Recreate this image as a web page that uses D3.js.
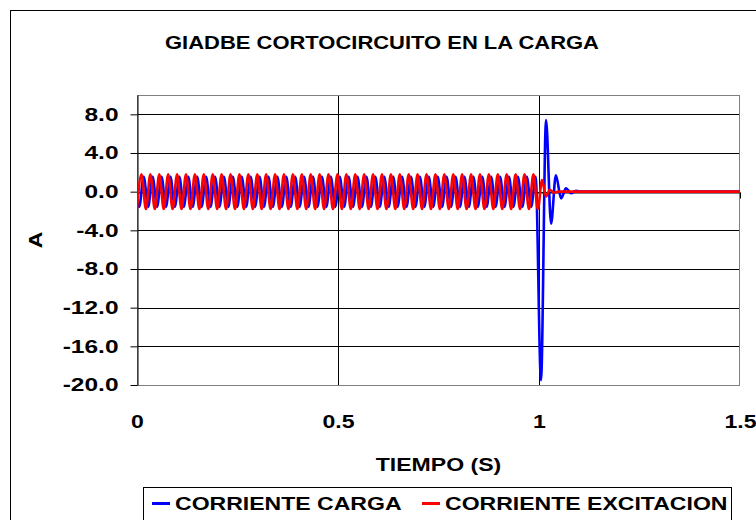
<!DOCTYPE html>
<html>
<head>
<meta charset="utf-8">
<script src="https://cdn.jsdelivr.net/npm/d3@7"></script>
<style>
  html, body { margin: 0; padding: 0; background: #fff; }
  svg { display: block; }
  text { font-family: "Liberation Sans", Arial, sans-serif; font-weight: bold; fill: #000; }
</style>
</head>
<body>
<svg id="chart" width="756" height="520"></svg>
<script>
// Time (s) of each turning point of the load current (blue)
const cargaT = [0,
  0.0055,0.0166,0.0277,0.0387,0.0498,0.0609,0.0720,0.0831,0.0941,0.1052,
  0.1163,0.1274,0.1385,0.1495,0.1606,0.1717,0.1828,0.1939,0.2049,0.2160,
  0.2271,0.2382,0.2493,0.2603,0.2714,0.2825,0.2936,0.3047,0.3157,0.3268,
  0.3379,0.3490,0.3601,0.3711,0.3822,0.3933,0.4044,0.4155,0.4265,0.4376,
  0.4487,0.4598,0.4709,0.4819,0.4930,0.5041,0.5152,0.5263,0.5373,0.5484,
  0.5595,0.5706,0.5817,0.5927,0.6038,0.6149,0.6260,0.6371,0.6481,0.6592,
  0.6703,0.6814,0.6925,0.7035,0.7146,0.7257,0.7368,0.7479,0.7589,0.7700,
  0.7811,0.7922,0.8033,0.8143,0.8254,0.8365,0.8476,0.8587,0.8697,0.8808,
  0.8919,0.9030,0.9141,0.9251,0.9362,0.9473,0.9584,0.9695,0.9805,0.9916,
  1.0050,1.0175,1.0300,1.0420,1.0550,1.0670,1.0800,1.0920,1.1050,1.5];
// Load current (A)
const cargaA = [-1.1,
  -1.55,1.55,-1.55,1.55,-1.55,1.55,-1.55,1.55,-1.55,1.55,
  -1.55,1.55,-1.55,1.55,-1.55,1.55,-1.55,1.55,-1.55,1.55,
  -1.55,1.55,-1.55,1.55,-1.55,1.55,-1.55,1.55,-1.55,1.55,
  -1.55,1.55,-1.55,1.55,-1.55,1.55,-1.55,1.55,-1.55,1.55,
  -1.55,1.55,-1.55,1.55,-1.55,1.55,-1.55,1.55,-1.55,1.55,
  -1.55,1.55,-1.55,1.55,-1.55,1.55,-1.55,1.55,-1.55,1.55,
  -1.55,1.55,-1.55,1.55,-1.55,1.55,-1.55,1.55,-1.55,1.55,
  -1.55,1.55,-1.55,1.55,-1.55,1.55,-1.55,1.55,-1.55,1.55,
  -1.55,1.55,-1.55,1.55,-1.55,1.55,-1.55,1.55,-1.55,1.55,
  -19.5,7.4,-3.3,1.7,-0.7,0.35,-0.17,0.1,0,0];

// Time (s) of each turning point of the excitation current (red)
const excT = [
  0,0.0111,0.0222,0.0332,0.0443,0.0554,0.0665,0.0776,0.0886,0.0997,
  0.1108,0.1219,0.1330,0.1440,0.1551,0.1662,0.1773,0.1884,0.1994,0.2105,
  0.2216,0.2327,0.2438,0.2548,0.2659,0.2770,0.2881,0.2992,0.3102,0.3213,
  0.3324,0.3435,0.3546,0.3656,0.3767,0.3878,0.3989,0.4100,0.4210,0.4321,
  0.4432,0.4543,0.4654,0.4764,0.4875,0.4986,0.5097,0.5208,0.5318,0.5429,
  0.5540,0.5651,0.5762,0.5872,0.5983,0.6094,0.6205,0.6316,0.6426,0.6537,
  0.6648,0.6759,0.6870,0.6980,0.7091,0.7202,0.7313,0.7424,0.7534,0.7645,
  0.7756,0.7867,0.7978,0.8088,0.8199,0.8310,0.8421,0.8532,0.8642,0.8753,
  0.8864,0.8975,0.9086,0.9196,0.9307,0.9418,0.9529,0.9640,0.9750,0.9861,
  0.9972,1.0075,1.0175,1.0270,1.0370,1.0470,1.5];
// Excitation current (A)
const excA = [
  -1.8,1.8,-1.8,1.8,-1.8,1.8,-1.8,1.8,-1.8,1.8,
  -1.8,1.8,-1.8,1.8,-1.8,1.8,-1.8,1.8,-1.8,1.8,
  -1.8,1.8,-1.8,1.8,-1.8,1.8,-1.8,1.8,-1.8,1.8,
  -1.8,1.8,-1.8,1.8,-1.8,1.8,-1.8,1.8,-1.8,1.8,
  -1.8,1.8,-1.8,1.8,-1.8,1.8,-1.8,1.8,-1.8,1.8,
  -1.8,1.8,-1.8,1.8,-1.8,1.8,-1.8,1.8,-1.8,1.8,
  -1.8,1.8,-1.8,1.8,-1.8,1.8,-1.8,1.8,-1.8,1.8,
  -1.8,1.8,-1.8,1.8,-1.8,1.8,-1.8,1.8,-1.8,1.8,
  -1.8,1.8,-1.8,1.8,-1.8,1.8,-1.8,1.8,-1.8,1.8,
  -1.8,1.2,-0.5,0.2,-0.1,0,0];

const yTicks = [-20, -16, -12, -8, -4, 0, 4, 8];
const yTickLabels = ["-20.0", "-16.0", "-12.0", "-8.0", "-4.0", "0.0", "4.0", "8.0"];
const xTicks = [0, 0.5, 1, 1.5];
const xTickLabels = ["0", "0.5", "1", "1.5"];

const title = "GIADBE CORTOCIRCUITO EN LA CARGA";
const xTitle = "TIEMPO (S)";
const yTitle = "A";
const seriesNames = ["CORRIENTE CARGA", "CORRIENTE EXCITACION"];
const seriesColors = ["#0000ff", "#ff0000"];

const svg = d3.select("#chart");
const FS = 18;        // font size
const STRETCH = 1.28; // horizontal stretch of the lettering

const plot = { left: 137, right: 740, top: 95, bottom: 385 };
const x = d3.scaleLinear().domain([0, 1.5]).range([plot.left, plot.right]);
const y = d3.scaleLinear().domain([-20, 10]).range([plot.bottom, plot.top]);

// widen lettering by a given factor
function stretchText(sel, k = STRETCH) {
  sel.each(function () {
    const w = this.getComputedTextLength();
    d3.select(this).attr("textLength", w * k).attr("lengthAdjust", "spacingAndGlyphs");
  });
  return sel;
}

// chart frame (runs off the right and bottom edges)
svg.append("rect").attr("x", 10.5).attr("y", 10.5).attr("width", 800).attr("height", 600)
  .attr("fill", "#fff").attr("stroke", "#000").attr("stroke-width", 1);

// plot area
svg.append("rect")
  .attr("x", plot.left).attr("y", plot.top)
  .attr("width", plot.right - plot.left).attr("height", plot.bottom - plot.top)
  .attr("fill", "#fff");

// horizontal gridlines
svg.append("g").selectAll("line").data(yTicks).join("line")
  .attr("x1", plot.left).attr("x2", plot.right)
  .attr("y1", d => Math.round(y(d)) + 0.5).attr("y2", d => Math.round(y(d)) + 0.5)
  .attr("stroke", "#000").attr("stroke-width", 1);

// vertical gridlines
svg.append("g").selectAll("line").data(xTicks.filter(d => d > 0 && d < 1.5)).join("line")
  .attr("x1", d => Math.round(x(d)) + 0.5).attr("x2", d => Math.round(x(d)) + 0.5)
  .attr("y1", plot.top).attr("y2", plot.bottom)
  .attr("stroke", "#000").attr("stroke-width", 1);

// plot border
svg.append("rect")
  .attr("x", plot.left + 0.5).attr("y", plot.top + 0.5)
  .attr("width", plot.right - plot.left - 1).attr("height", plot.bottom - plot.top)
  .attr("fill", "none").attr("stroke", "#808080").attr("stroke-width", 1);

// y axis
const yAxis = svg.append("g").attr("transform", `translate(${plot.left + 0.5},0)`)
  .call(d3.axisLeft(y).tickValues(yTicks).tickSize(7).tickPadding(12)
    .tickFormat((d, i) => yTickLabels[i]).tickSizeOuter(0));
yAxis.select(".domain").attr("stroke", "#000");
yAxis.selectAll(".tick line").attr("stroke", "#000");
yAxis.selectAll("text").attr("font-size", FS).attr("font-family", null).call(stretchText, 1.36);

// x axis line through zero with tick marks
const xAxis0 = svg.append("g").attr("transform", `translate(0,${Math.round(y(0)) + 0.5})`)
  .call(d3.axisBottom(x).tickValues(xTicks).tickSize(6).tickFormat("").tickSizeOuter(0));
xAxis0.select(".domain").attr("stroke", "#000");
xAxis0.selectAll(".tick line").attr("stroke", "#000");

// x tick labels below the plot
const xLab = svg.append("g").attr("transform", `translate(0,${plot.bottom})`)
  .call(d3.axisBottom(x).tickValues(xTicks).tickSize(0).tickPadding(30)
    .tickFormat((d, i) => xTickLabels[i]));
xLab.select(".domain").remove();
xLab.selectAll("text").attr("font-size", FS).attr("font-family", null).call(stretchText);

// series
const line = d3.line().x(d => x(d[0])).y(d => y(d[1])).curve(d3.curveMonotoneX);
const carga = cargaT.map((t, i) => [t, cargaA[i]]);
const exc = excT.map((t, i) => [t, excA[i]]);
svg.append("clipPath").attr("id", "clip").append("rect")
  .attr("x", plot.left).attr("y", plot.top - 2)
  .attr("width", plot.right - plot.left).attr("height", plot.bottom - plot.top + 4);
[carga, exc].forEach((data, i) => {
  svg.append("path").datum(data)
    .attr("clip-path", "url(#clip)")
    .attr("d", line)
    .attr("fill", "none")
    .attr("stroke", seriesColors[i])
    .attr("stroke-width", 2.6)
    .attr("stroke-linejoin", "round");
});

// titles
svg.append("text").attr("x", 382).attr("y", 49).attr("text-anchor", "middle")
  .attr("font-size", FS).text(title).call(stretchText, 1.22);
svg.append("text").attr("x", (plot.left + plot.right) / 2).attr("y", 471).attr("text-anchor", "middle")
  .attr("font-size", FS).text(xTitle).call(stretchText);
svg.append("text").attr("transform", `translate(42,${(plot.top + plot.bottom) / 2}) rotate(-90)`)
  .attr("text-anchor", "middle").attr("font-size", FS).text(yTitle).call(stretchText);

// legend
const leg = svg.append("g");
leg.append("rect").attr("x", 143.5).attr("y", 487.5).attr("width", 588).attr("height", 50)
  .attr("fill", "#fff").attr("stroke", "#000").attr("stroke-width", 1);
const legX = [152, 422];
seriesNames.forEach((name, i) => {
  leg.append("line").attr("x1", legX[i]).attr("x2", legX[i] + 18)
    .attr("y1", 503.5).attr("y2", 503.5)
    .attr("stroke", seriesColors[i]).attr("stroke-width", 3);
  leg.append("text").attr("x", legX[i] + 23).attr("y", 509.5)
    .attr("font-size", FS).text(name).call(stretchText);
});
</script>
</body>
</html>
